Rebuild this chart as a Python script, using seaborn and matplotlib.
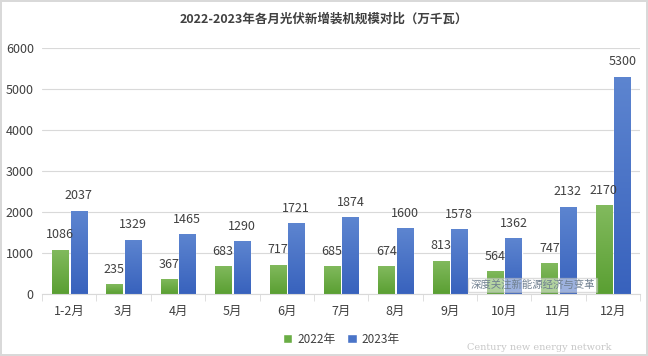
import numpy as np
import pandas as pd
import matplotlib
matplotlib.use('Agg')
import matplotlib.pyplot as plt
from matplotlib.colors import LinearSegmentedColormap
import seaborn as sns

# Chart data
months = ['1-2月', '3月', '4月', '5月', '6月', '7月', '8月', '9月', '10月', '11月', '12月']
values_2022 = [1086, 235, 367, 683, 717, 685, 674, 813, 564, 747, 2170]
values_2023 = [2037, 1329, 1465, 1290, 1721, 1874, 1600, 1578, 1362, 2132, 5300]
years = ['2022年', '2023年']

df = pd.DataFrame({
    'month': months * 2,
    'value': values_2022 + values_2023,
    'year': [years[0]] * len(months) + [years[1]] * len(months),
})

sns.set_style('white')
plt.rcParams['font.family'] = ['Noto Sans CJK SC', 'DejaVu Sans']

text_color = '#404040'
colors = ['#6aad45', '#4a74c8']
# top -> bottom shading for the bars
grads = [('#82ba5e', '#5a9f32'), ('#5d85d0', '#3862bd')]

fig = plt.figure(figsize=(6.48, 3.56), dpi=100)
ax = fig.add_axes([0.065, 0.174, 0.923, 0.691])

sns.barplot(data=df, x='month', y='value', hue='year', palette=colors,
            width=0.68, gap=0.13, ax=ax, legend=True, saturation=1)

ax.set_ylim(0, 6000)
ax.set_xlim(-0.5, len(months) - 0.5)

# Gradient fill clipped to each bar
grad_img = np.linspace(1, 0, 256).reshape(-1, 1)
for container, (c_top, c_bot) in zip(ax.containers, grads):
    cmap = LinearSegmentedColormap.from_list('g', [c_bot, c_top])
    for bar in container:
        x0, y0 = bar.get_x(), bar.get_y()
        w, h = bar.get_width(), bar.get_height()
        im = ax.imshow(grad_img, extent=[x0, x0 + w, y0, y0 + h], cmap=cmap,
                       aspect='auto', zorder=bar.get_zorder() + 0.1)
        im.set_clip_path(bar)
    ax.bar_label(container, padding=6, fontsize=9, color=text_color)

ax.set_xlim(-0.5, len(months) - 0.5)
ax.set_ylim(0, 6000)
ax.set_yticks(range(0, 6001, 1000))
ax.yaxis.grid(True, color='#d9d9d9', linewidth=0.8)
ax.set_axisbelow(True)
ax.set_xlabel('')
ax.set_ylabel('')

for s in ['left', 'right', 'top']:
    ax.spines[s].set_visible(False)
ax.spines['bottom'].set_color('#d9d9d9')

# Tick marks between categories
ax.set_xticks(range(len(months)))
ax.set_xticklabels(months)
ax.set_xticks([i - 0.5 for i in range(len(months) + 1)], minor=True)
ax.tick_params(axis='x', which='major', length=0, pad=8, labelsize=9, labelcolor=text_color)
ax.tick_params(axis='x', which='minor', length=5, color='#d9d9d9', bottom=True)
ax.tick_params(axis='y', length=0, labelsize=9, labelcolor=text_color, pad=6)

ax.legend(loc='upper center', bbox_to_anchor=(0.5, -0.115), ncol=2, frameon=False,
          fontsize=8.5, labelcolor=text_color, handlelength=0.8, handleheight=0.8,
          columnspacing=1.0, handletextpad=0.4)

fig.text(0.5, 0.945, '2022-2023年各月光伏新增装机规模对比（万千瓦）', ha='center', va='center',
         fontsize=9, fontweight='bold', color='#404040')

# Watermark text
fig.text(0.832, 0.025, 'Century new energy network', ha='center', va='center',
         fontsize=7, color='#c8c8c8', family='DejaVu Serif')
fig.text(0.822, 0.2, '深度关注新能源经济与变革', ha='center', va='center', fontsize=7.5,
         color='#6f7f8f', bbox=dict(facecolor='white', alpha=0.5, edgecolor='#bbbbbb', pad=1.5))

fig.patch.set_edgecolor('#d9d9d9')
fig.patch.set_linewidth(1.5)

fig.savefig('out.png', dpi=100)
